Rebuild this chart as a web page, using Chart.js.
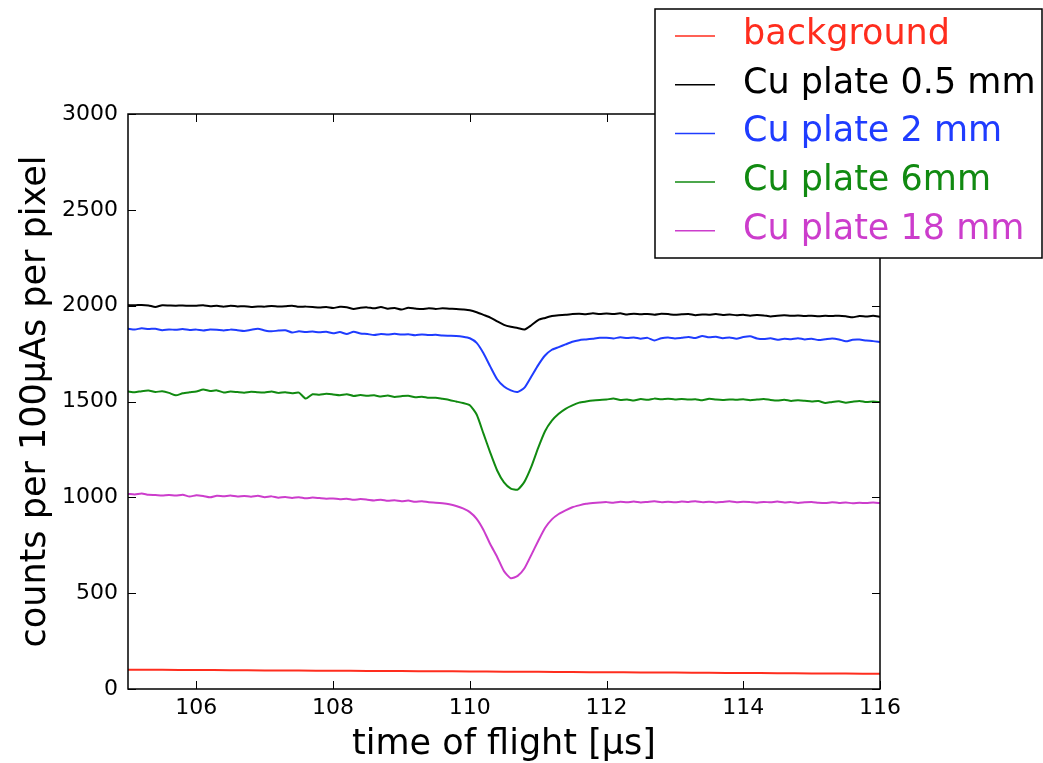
<!DOCTYPE html>
<html><head><meta charset="utf-8">
<script src="https://cdn.jsdelivr.net/npm/chart.js@4/dist/chart.umd.min.js"></script>
<style>html,body{margin:0;padding:0;background:#fff;}canvas{display:block;}</style>
</head><body>
<canvas id="c" width="1043" height="763"></canvas>
<script>
// time of flight [µs]
const tof = [
105.0,105.1,105.2,105.3,105.4,105.5,105.6,105.7,105.8,105.9,
106.0,106.1,106.2,106.3,106.4,106.5,106.6,106.7,106.8,106.9,
107.0,107.1,107.2,107.3,107.4,107.5,107.6,107.7,107.8,107.9,
108.0,108.1,108.2,108.3,108.4,108.5,108.6,108.7,108.8,108.9,
109.0,109.1,109.2,109.3,109.4,109.5,109.6,109.7,109.8,109.9,
110.0,110.1,110.2,110.3,110.4,110.5,110.6,110.7,110.8,110.9,
111.0,111.1,111.2,111.3,111.4,111.5,111.6,111.7,111.8,111.9,
112.0,112.1,112.2,112.3,112.4,112.5,112.6,112.7,112.8,112.9,
113.0,113.1,113.2,113.3,113.4,113.5,113.6,113.7,113.8,113.9,
114.0,114.1,114.2,114.3,114.4,114.5,114.6,114.7,114.8,114.9,
115.0,115.1,115.2,115.3,115.4,115.5,115.6,115.7,115.8,115.9,
116.0];
const tofBackground = [105,105.5,106,106.5,107,107.5,108,108.5,109,109.5,110,110.5,111,111.5,112,112.5,113,113.5,114,114.5,115,115.5,116];
const background = [101,100,99,98,97,96,95.5,94.5,93.5,92.5,91.5,90.5,89.5,88.5,87.5,86.5,85.5,84.5,83.5,82.5,81.5,80.5,79.5];
const cu05 = [
2003,2002,2004,2001,1993,2002,2001,2000,2001,1999,
2000,2002,1997,1999,1995,2000,1996,1997,1993,1996,
1995,1998,1996,1997,2000,1994,1995,1993,1990,1993,
1988,1994,1992,1983,1989,1991,1986,1993,1984,1988,
1980,1989,1985,1982,1987,1983,1986,1984,1983,1980,
1976,1966,1952,1938,1918,1900,1890,1884,1876,1898,
1925,1936,1946,1950,1952,1956,1958,1955,1960,1957,
1959,1956,1960,1954,1958,1955,1957,1953,1958,1956,
1952,1955,1957,1950,1954,1953,1956,1951,1954,1950,
1953,1948,1951,1949,1944,1948,1950,1947,1949,1946,
1948,1945,1947,1946,1948,1945,1939,1946,1944,1947,
1942];
const cu2 = [
1880,1876,1882,1878,1880,1872,1876,1874,1878,1873,
1875,1871,1876,1874,1870,1875,1872,1868,1874,1879,
1871,1866,1870,1872,1860,1866,1863,1865,1861,1864,
1856,1862,1852,1864,1855,1852,1847,1852,1850,1853,
1849,1851,1846,1850,1847,1848,1844,1843,1842,1838,
1830,1806,1752,1682,1616,1578,1558,1550,1572,1630,
1690,1740,1770,1784,1798,1812,1820,1824,1828,1832,
1833,1829,1835,1831,1834,1828,1832,1818,1830,1834,
1829,1832,1836,1831,1842,1835,1838,1830,1834,1828,
1836,1840,1829,1826,1830,1822,1827,1825,1830,1824,
1827,1821,1825,1829,1824,1814,1822,1823,1818,1815,
1810];
const cu6 = [
1552,1548,1554,1557,1550,1553,1545,1532,1543,1548,
1552,1562,1555,1558,1547,1552,1549,1546,1551,1548,
1547,1552,1545,1548,1543,1546,1515,1538,1535,1540,
1537,1533,1538,1529,1534,1530,1532,1526,1531,1524,
1528,1530,1522,1525,1519,1520,1514,1508,1500,1492,
1480,1432,1332,1232,1140,1078,1046,1040,1082,1160,
1258,1345,1400,1436,1462,1480,1494,1500,1505,1508,
1510,1516,1508,1511,1505,1513,1509,1515,1512,1514,
1511,1513,1510,1512,1506,1514,1510,1508,1511,1509,
1512,1507,1510,1513,1508,1505,1509,1503,1507,1504,
1500,1502,1492,1498,1501,1494,1499,1503,1497,1500,
1497];
const cu18 = [
1018,1015,1020,1013,1012,1010,1012,1009,1014,1004,
1011,1007,1000,1008,1006,1009,1004,1007,1003,1008,
1001,1005,998,1002,997,1001,995,999,996,993,
994,990,993,987,991,988,984,988,982,985,
980,983,977,980,974,972,969,964,955,942,
923,888,830,755,689,615,578,590,630,700,
772,840,885,913,932,948,958,966,970,973,
975,972,977,974,978,973,976,979,975,977,
974,978,976,980,975,977,973,976,979,974,
977,975,972,976,974,978,973,975,971,974,
976,972,970,974,971,973,969,972,970,973,
970];
const seriesLabels = ['background','Cu plate 0.5 mm','Cu plate 2 mm','Cu plate 6mm','Cu plate 18 mm'];
const seriesColors = ['#ff2d1e','#000000','#1f3cff','#118a11','#cc3dcc'];
const xTickValues = [106,108,110,112,114,116];
const yTickValues = [0,500,1000,1500,2000,2500,3000];
const xTitle = 'time of flight [\u03bcs]';
const yTitle = 'counts per 100\u03bcAs per pixel';

const FONT = "'DejaVu Sans', sans-serif";
const pts = (xs, ys) => ys.map((v, i) => ({x: xs[i], y: v}));

const frameTicks = {
  id: 'frameTicks',
  afterDatasetsDraw(chart) {
    const {ctx, chartArea: a, scales: {x, y}} = chart;
    ctx.save();
    ctx.strokeStyle = '#000';
    ctx.lineWidth = 1.5;
    ctx.strokeRect(a.left, a.top, a.right - a.left, a.bottom - a.top);
    ctx.lineWidth = 1;
    const L = 8;
    ctx.beginPath();
    x.ticks.forEach(t => {
      const px = Math.round(x.getPixelForValue(t.value)) + 0.5;
      ctx.moveTo(px, a.bottom); ctx.lineTo(px, a.bottom - L);
      ctx.moveTo(px, a.top); ctx.lineTo(px, a.top + L);
    });
    y.ticks.forEach(t => {
      const py = Math.round(y.getPixelForValue(t.value)) + 0.5;
      ctx.moveTo(a.left, py); ctx.lineTo(a.left + L, py);
      ctx.moveTo(a.right, py); ctx.lineTo(a.right - L, py);
    });
    ctx.stroke();
    ctx.restore();
  }
};

const boxLegend = {
  id: 'boxLegend',
  afterDraw(chart) {
    const ctx = chart.ctx;
    const bx = 655, by = 9, bw = 387, bh = 249;
    ctx.save();
    ctx.fillStyle = '#fff';
    ctx.fillRect(bx, by, bw, bh);
    ctx.strokeStyle = '#000';
    ctx.lineWidth = 1.5;
    ctx.strokeRect(bx, by, bw, bh);
    ctx.font = "35px " + FONT;
    ctx.textAlign = 'left';
    ctx.textBaseline = 'alphabetic';
    chart.data.datasets.forEach((ds, i) => {
      const ly = 36 + i * 48.7;
      ctx.strokeStyle = ds.borderColor;
      ctx.lineWidth = 1.5;
      ctx.beginPath();
      ctx.moveTo(675, ly); ctx.lineTo(715, ly);
      ctx.stroke();
      ctx.fillStyle = ds.borderColor;
      ctx.fillText(ds.label, 743, ly + 8);
    });
    ctx.restore();
  }
};

const seriesData = [pts(tofBackground, background), pts(tof, cu05), pts(tof, cu2), pts(tof, cu6), pts(tof, cu18)];

new Chart(document.getElementById('c'), {
  type: 'line',
  data: {
    datasets: seriesData.map((d, i) => ({
      label: seriesLabels[i],
      data: d,
      borderColor: seriesColors[i],
      backgroundColor: seriesColors[i],
      borderWidth: 2,
      pointRadius: 0,
      tension: 0.2,
      fill: false
    }))
  },
  options: {
    responsive: false,
    animation: false,
    devicePixelRatio: 1,
    layout: {padding: {left: 0, top: 114, right: 163, bottom: 0}},
    plugins: {legend: {display: false}, tooltip: {enabled: false}},
    scales: {
      x: {
        type: 'linear', min: 105, max: 116,
        afterBuildTicks: s => { s.ticks = xTickValues.map(v => ({value: v})); },
        afterFit: s => { s.height = 74; },
        grid: {display: false, drawTicks: false},
        border: {display: false},
        ticks: {font: {family: FONT, size: 22}, color: '#000', padding: 6, maxRotation: 0, autoSkip: false, callback: v => String(v)},
        title: {display: true, text: xTitle, font: {family: FONT, size: 35}, color: '#000', padding: {top: 0, bottom: -3}}
      },
      y: {
        type: 'linear', min: 0, max: 3000,
        afterBuildTicks: s => { s.ticks = yTickValues.map(v => ({value: v})); },
        afterFit: s => { s.width = 128; },
        grid: {display: false, drawTicks: false},
        border: {display: false},
        ticks: {font: {family: FONT, size: 22}, color: '#000', padding: 10, autoSkip: false, callback: v => String(v)},
        title: {display: true, text: yTitle, font: {family: FONT, size: 35}, color: '#000', padding: {top: 15, bottom: 0}}
      }
    }
  },
  plugins: [frameTicks, boxLegend]
});
</script>
</body></html>
